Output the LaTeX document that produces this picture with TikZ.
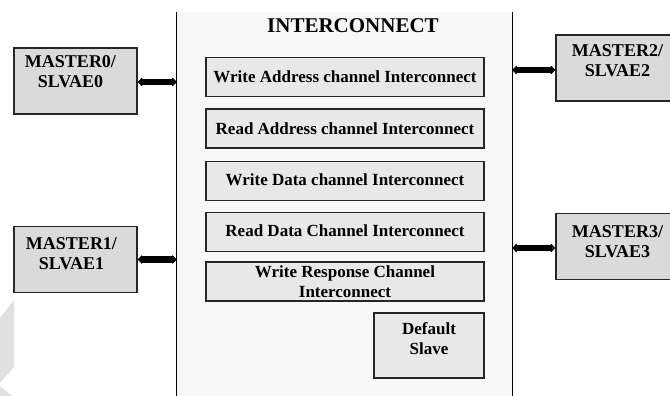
\documentclass[tikz,border=0pt]{standalone}
\usepackage{fontspec}
\setmainfont{Liberation Serif}
\usetikzlibrary{arrows.meta}

\definecolor{mastergray}{HTML}{DADADA}
\definecolor{changray}{HTML}{E8E8E8}
\definecolor{icgray}{HTML}{F7F7F7}
\definecolor{markgray}{HTML}{E0E0E0}

\begin{document}
\begin{tikzpicture}[x=1pt,y=-1pt,
        master/.style={draw=black!85, line width=1.3pt, fill=mastergray,
                minimum width=123pt, minimum height=66pt},
        mlabel/.style={align=center, font=\bfseries\fontsize{18}{20}\selectfont},
        chan/.style={draw=black!85, line width=1.3pt, fill=changray,
                minimum width=278pt, minimum height=39pt, align=center,
                font=\bfseries\fontsize{17}{20}\selectfont},
        bus/.style={{Latex[length=5pt,width=11pt,round]}-{Latex[length=5pt,width=11pt,round]},
                line width=6.5pt}]
        \useasboundingbox (0,0) rectangle (670,396);

        % faint mark in the corner
        \fill[markgray] (0,318) -- (14,300) -- (14,367) -- (0,383) -- cycle;
        \fill[markgray] (0,386) -- (12,396) -- (0,396) -- cycle;

        % interconnect block
        \node[fill=icgray, minimum width=335pt, minimum height=384pt, inner sep=0pt] (ic) at (344.5,204) {};
        \draw[line width=1.3pt] (ic.north west) -- (ic.south west);
        \draw[line width=1.3pt] (ic.north east) -- (ic.south east);
        \node[font=\bfseries\fontsize{21}{24}\selectfont] (title) at (353,26) {INTERCONNECT};

        \node[chan] (wa) at (345,77) {Write Address channel Interconnect};
        \node[chan] (ra) at (345,128.5) {Read Address channel Interconnect};
        \node[chan] (wd) at (345,181) {\raisebox{3pt}{Write Data channel Interconnect}};
        \node[chan] (rd) at (345,232) {\raisebox{2pt}{Read Data Channel Interconnect}};
        \node[chan] (wr) at (345,281.5) {Write Response Channel\\Interconnect};

        \node[chan, minimum width=110pt, minimum height=65pt] (ds) at (429,345.5) {};
        \node[mlabel, font=\bfseries\fontsize{17}{20}\selectfont] at ([yshift=7pt]ds.center) {Default\\Slave};

        % masters / slaves
        \node[master] (m0) at (75.5,81) {};
        \node[mlabel] at ([xshift=-5pt,yshift=9pt]m0.center) {MASTER0/\\SLVAE0};
        \node[master] (m1) at (75.5,259.5) {};
        \node[mlabel] at ([xshift=-4pt,yshift=6pt]m1.center) {MASTER1/\\SLVAE1};
        \node[master] (m2) at (617.5,68) {};
        \node[mlabel] at ([yshift=7pt]m2.center) {MASTER2/\\SLVAE2};
        \node[master] (m3) at (617.5,246.5) {};
        \node[mlabel] at ([yshift=5pt]m3.center) {MASTER3/\\SLVAE3};

        \draw[bus] ([yshift=-1pt]m0.east) -- ([yshift=-1pt]m0.east -| ic.west);
        \draw[bus] (m1.east) -- (m1.east -| ic.west);
        \draw[bus] ([yshift=-2pt]m2.west) -- ([yshift=-2pt]m2.west -| ic.east);
        \draw[bus] ([yshift=-1.5pt]m3.west) -- ([yshift=-1.5pt]m3.west -| ic.east);

\end{tikzpicture}
\end{document}
